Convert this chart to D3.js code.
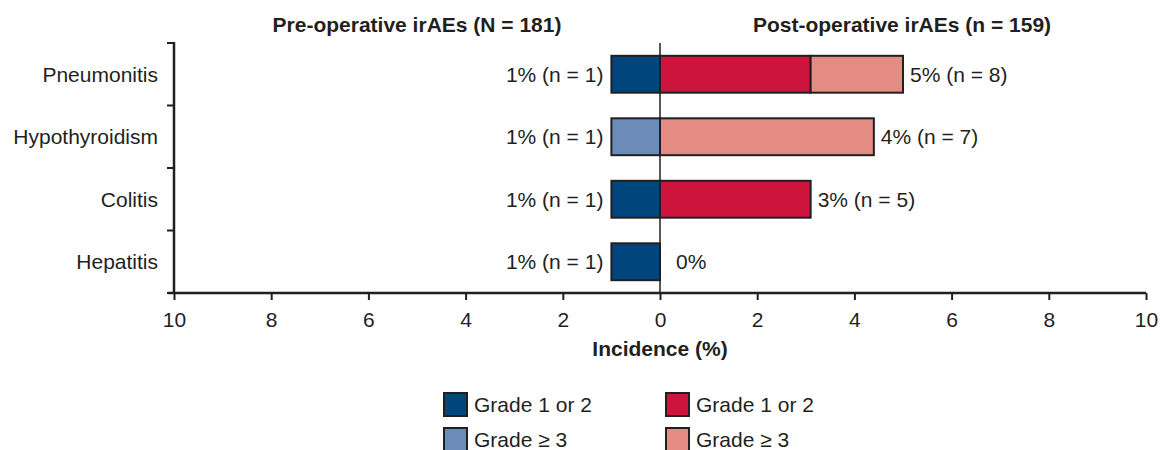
<!DOCTYPE html>
<meta charset="utf-8">
<script src="https://d3js.org/d3.v7.min.js"></script>
<style>
  body { margin: 0; background: #fff; }
  text { font-family: "Liberation Sans", Arial, sans-serif; fill: #231f20; }
</style>
<svg id="chart" width="1163" height="450"></svg>
<script>

// Data
var categories = ["Pneumonitis", "Hypothyroidism", "Colitis", "Hepatitis"];
var preGrade12 = [1, 0, 1, 1];
var preGrade3 = [0, 1, 0, 0];
var postGrade12 = [3.1, 0, 3.1, 0];
var postGrade3 = [1.9, 4.4, 0, 0];
var preLabels = ["1% (n = 1)", "1% (n = 1)", "1% (n = 1)", "1% (n = 1)"];
var postLabels = ["5% (n = 8)", "4% (n = 7)", "3% (n = 5)", "0%"];
var tickValues = [-10, -8, -6, -4, -2, 0, 2, 4, 6, 8, 10];

var colors = {
  pre12: "#00457c",
  pre3: "#6b8cb7",
  post12: "#cc143c",
  post3: "#e48b84"
};

var fs = "21px";

var svg = d3.select("#chart");

var x = d3.scaleLinear().domain([-10, 10]).range([174, 1146]);
var y = d3.scaleBand().domain(categories).range([43, 293]).paddingInner(0.41).paddingOuter(0.205);

// Bars: build segments from the arrays
var segs = [];
categories.forEach(function(c, i) {
  if (preGrade12[i] > 0) segs.push({cat: c, x0: -preGrade12[i], x1: 0, color: colors.pre12});
  if (preGrade3[i] > 0) segs.push({cat: c, x0: -preGrade3[i], x1: 0, color: colors.pre3});
  if (postGrade12[i] > 0) segs.push({cat: c, x0: 0, x1: postGrade12[i], color: colors.post12});
  if (postGrade3[i] > 0) segs.push({cat: c, x0: postGrade12[i], x1: postGrade12[i] + postGrade3[i], color: colors.post3});
});

svg.append("g")
  .selectAll("rect")
  .data(segs)
  .enter()
  .append("rect")
    .attr("x", function(d) { return x(d.x0); })
    .attr("y", function(d) { return y(d.cat); })
    .attr("width", function(d) { return x(d.x1) - x(d.x0); })
    .attr("height", y.bandwidth())
    .attr("fill", function(d) { return d.color; })
    .attr("stroke", "#231f20")
    .attr("stroke-width", 2);

// zero line
svg.append("line")
  .attr("x1", x(0)).attr("x2", x(0))
  .attr("y1", 43).attr("y2", 293)
  .attr("stroke", "#231f20")
  .attr("stroke-width", 1.5);

// value labels
svg.append("g")
  .selectAll("text")
  .data(categories)
  .enter()
  .append("text")
    .attr("x", function(d, i) { return x(-Math.max(preGrade12[i], preGrade3[i])) - 8; })
    .attr("y", function(d) { return y(d) + y.bandwidth() / 2; })
    .attr("dy", "0.35em")
    .attr("text-anchor", "end")
    .style("font-size", fs)
    .text(function(d, i) { return preLabels[i]; });

svg.append("g")
  .selectAll("text")
  .data(categories)
  .enter()
  .append("text")
    .attr("x", function(d, i) {
      var t = postGrade12[i] + postGrade3[i];
      return t > 0 ? x(t) + 7 : x(0) + 16;
    })
    .attr("y", function(d) { return y(d) + y.bandwidth() / 2; })
    .attr("dy", "0.35em")
    .style("font-size", fs)
    .text(function(d, i) { return postLabels[i]; });

// x axis
var xAxis = svg.append("g")
  .attr("transform", "translate(0,293)")
  .call(d3.axisBottom(x).tickValues(tickValues).tickSize(7).tickPadding(12)
    .tickFormat(function(d) { return Math.abs(d); }));
xAxis.select(".domain").attr("stroke", "#231f20").attr("stroke-width", 2.5)
  .attr("d", "M168,0H1146");
xAxis.selectAll(".tick line").attr("stroke", "#231f20").attr("stroke-width", 2);
xAxis.selectAll(".tick text").style("font-size", fs).attr("fill", "#231f20")
  .style("font-family", "'Liberation Sans', Arial, sans-serif");

// y axis: ticks at band boundaries
var yAxis = svg.append("g");
yAxis.append("line")
  .attr("x1", 174).attr("x2", 174).attr("y1", 42).attr("y2", 294)
  .attr("stroke", "#231f20").attr("stroke-width", 2.5);
var bounds = categories.map(function(c) { return y(c) - y.step() * y.paddingInner() / 2; });
bounds.push(293);
yAxis.selectAll("line.tk")
  .data(bounds)
  .enter()
  .append("line")
    .attr("class", "tk")
    .attr("x1", 167).attr("x2", 174)
    .attr("y1", function(d) { return d; })
    .attr("y2", function(d) { return d; })
    .attr("stroke", "#231f20").attr("stroke-width", 2);
yAxis.selectAll("text")
  .data(categories)
  .enter()
  .append("text")
    .attr("x", 158)
    .attr("y", function(d) { return y(d) + y.bandwidth() / 2; })
    .attr("dy", "0.35em")
    .attr("text-anchor", "end")
    .style("font-size", fs)
    .text(function(d) { return d; });

// titles
svg.append("text")
  .attr("x", 417).attr("y", 32)
  .attr("text-anchor", "middle")
  .style("font-size", fs).style("font-weight", "bold")
  .text("Pre-operative irAEs (N = 181)");
svg.append("text")
  .attr("x", 902).attr("y", 32)
  .attr("text-anchor", "middle")
  .style("font-size", fs).style("font-weight", "bold")
  .text("Post-operative irAEs (n = 159)");
svg.append("text")
  .attr("x", 660).attr("y", 356)
  .attr("text-anchor", "middle")
  .style("font-size", fs).style("font-weight", "bold")
  .text("Incidence (%)");

// legend
var legendItems = [
  {label: "Grade 1 or 2", color: colors.pre12, col: 0, row: 0},
  {label: "Grade \u2265 3", color: colors.pre3, col: 0, row: 1},
  {label: "Grade 1 or 2", color: colors.post12, col: 1, row: 0},
  {label: "Grade \u2265 3", color: colors.post3, col: 1, row: 1}
];
var legend = svg.append("g")
  .selectAll("g")
  .data(legendItems)
  .enter()
  .append("g")
    .attr("transform", function(d) { return "translate(" + (444 + d.col * 222) + "," + (393 + d.row * 35) + ")"; });
legend.append("rect")
  .attr("width", 23).attr("height", 23)
  .attr("fill", function(d) { return d.color; })
  .attr("stroke", "#231f20").attr("stroke-width", 2);
legend.append("text")
  .attr("x", 30).attr("y", 12)
  .attr("dy", "0.35em")
  .style("font-size", fs)
  .text(function(d) { return d.label; });

</script>
